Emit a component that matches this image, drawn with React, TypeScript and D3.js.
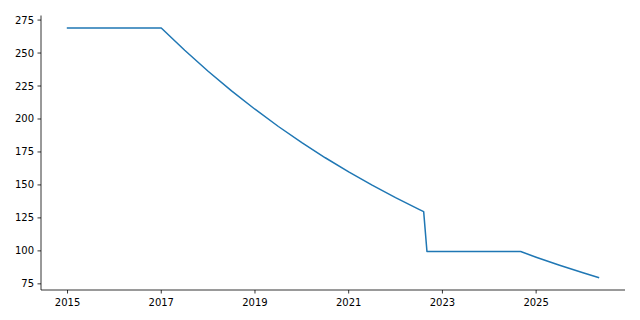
import React from "react";
import * as d3 from "d3";

const years: number[] = [
  2015.0, 2017.0, 2017.5, 2018.0, 2018.5, 2019.0, 2019.5, 2020.0, 2020.5,
  2021.0, 2021.5, 2022.0, 2022.5, 2022.6, 2022.67, 2024.67, 2025.0, 2025.5,
  2026.0, 2026.33,
];
const values: number[] = [
  269, 269, 252.1, 236.2, 221.3, 207.4, 194.3, 182.1, 170.6, 159.9, 149.8,
  140.4, 131.5, 129.8, 99.5, 99.5, 95.2, 89.1, 83.4, 79.8,
];
const xTicks: number[] = [2015, 2017, 2019, 2021, 2023, 2025];
const yTicks: number[] = [75, 100, 125, 150, 175, 200, 225, 250, 275];

const W = 640;
const H = 320;
const left = 41;
const right = 625;
const top = 15.5;
const bottom = 290;

export default function App() {
  const xMin = d3.min(years)!;
  const xMax = d3.max(years)!;
  const yMin = d3.min(values)!;
  const yMax = d3.max(values)!;
  const xm = (xMax - xMin) * 0.05;
  const ym = (yMax - yMin) * 0.05;
  const x = d3.scaleLinear().domain([xMin - xm, xMax + xm]).range([left, right]);
  const y = d3.scaleLinear().domain([yMin - ym, yMax + ym]).range([bottom, top]);
  const pts = years.map((yr, i) => [yr, values[i]] as [number, number]);
  const line = d3
    .line<[number, number]>()
    .x((d) => x(d[0]))
    .y((d) => y(d[1]));
  const font = "'DejaVu Sans', sans-serif";
  return (
    <svg
      width={W}
      height={H}
      style={{ position: "absolute", left: 0, top: 0, background: "#fff" }}
    >
      <path
        d={line(pts)!}
        fill="none"
        stroke="#1f77b4"
        strokeWidth={1.5}
        strokeLinejoin="round"
        strokeLinecap="square"
      />
      <line x1={left} x2={left} y1={top} y2={bottom} stroke="#000" strokeWidth={0.8} />
      <line x1={left} x2={right} y1={bottom} y2={bottom} stroke="#000" strokeWidth={0.8} />
      {yTicks.map((t) => (
        <g key={"y" + t}>
          <line x1={left - 3.5} x2={left} y1={y(t)} y2={y(t)} stroke="#000" strokeWidth={0.8} />
          <text
            x={left - 7}
            y={y(t)}
            dy="0.35em"
            textAnchor="end"
            fontFamily={font}
            fontSize={10}
            fill="#000"
          >
            {t}
          </text>
        </g>
      ))}
      {xTicks.map((t) => (
        <g key={"x" + t}>
          <line x1={x(t)} x2={x(t)} y1={bottom} y2={bottom + 3.5} stroke="#000" strokeWidth={0.8} />
          <text
            x={x(t)}
            y={bottom + 16}
            textAnchor="middle"
            fontFamily={font}
            fontSize={10}
            fill="#000"
          >
            {t}
          </text>
        </g>
      ))}
    </svg>
  );
}
